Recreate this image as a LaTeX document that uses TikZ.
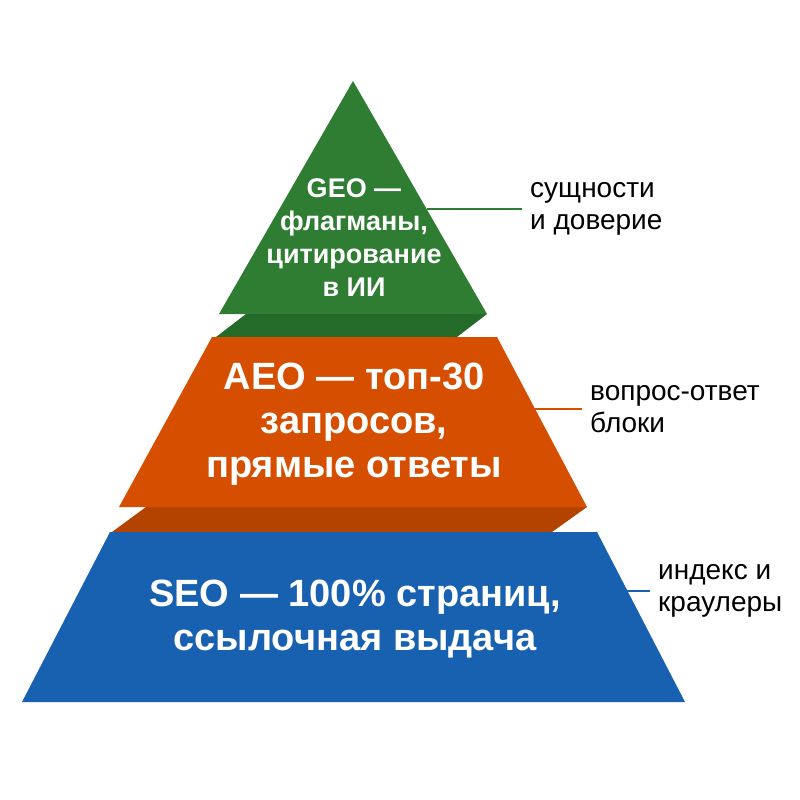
\documentclass[tikz,border=0pt]{standalone}
\usepackage{fontspec}
\setmainfont{Liberation Sans}
\usepackage{tikz}

\definecolor{geogreen}{HTML}{2E7D32}
\definecolor{geodark}{HTML}{246A29}
\definecolor{aeoorange}{HTML}{D64F00}
\definecolor{aeodark}{HTML}{B44300}
\definecolor{seoblue}{HTML}{1761B0}

\begin{document}
\begin{tikzpicture}[x=1pt, y=-1pt,
    tier/.style={text=white, align=center, font=\bfseries\fontsize{38}{44}\selectfont},
    side/.style={anchor=west, align=left, inner sep=8pt, font=\fontsize{28}{32}\selectfont},
    tick/.style={line width=1.2pt}]
    \useasboundingbox (0,0) rectangle (800,800);

    % dark bands under the upper tiers
    \fill[geodark] (246,314) -- (487,314) -- (457,337) -- (216,337) -- cycle;
    \fill[aeodark] (146,507) -- (587,507) -- (552,532) -- (112,532) -- cycle;

    % tiers
    \fill[geogreen] (353,81) -- (487,314) -- (219,314) -- cycle;
    \fill[aeoorange] (212,337) -- (497,337) -- (587,507) -- (119,507) -- cycle;
    \fill[seoblue] (110,532) -- (597,532) -- (685,702) -- (22,702) -- cycle;

    \node[tier, font=\bfseries\fontsize{27}{33}\selectfont] (geo) at (354,238) {GEO —\\флагманы,\\цитирование\\в ИИ};
    \node[tier] (aeo) at (354,424) {AEO — топ-30\\запросов,\\прямые ответы};
    \node[tier] (seo) at (355,619) {SEO — 100\% страниц,\\ссылочная выдача};

    \node[side] (trust) at (522,209) {сущности\\и доверие};
    \node[side] (qa) at (582,409) {вопрос-ответ\\блоки};
    \node[side] (crawl) at (650,591) {индекс и\\краулеры};

    \coordinate (geoedge) at (427,209);
    \coordinate (aeoedge) at (535,409);
    \coordinate (seoedge) at (627,591);

    \draw[tick, geogreen] (geoedge) -- (trust.west);
    \draw[tick, aeoorange] (aeoedge) -- (qa.west);
    \draw[tick, seoblue] (seoedge) -- (crawl.west);
\end{tikzpicture}
\end{document}
